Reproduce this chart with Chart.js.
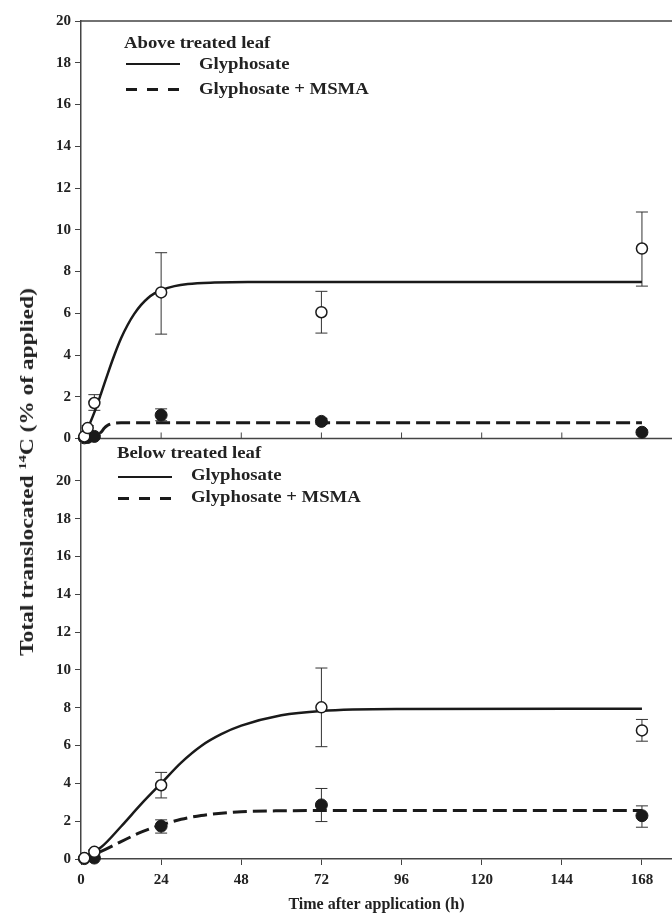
<!DOCTYPE html>
<html>
<head>
<meta charset="utf-8">
<script src="https://cdn.jsdelivr.net/npm/chart.js@4.4.1/dist/chart.umd.min.js"></script>
<style>
  body { margin: 0; background: #fff; width: 672px; height: 923px; overflow: hidden; position: relative;
         font-family: "Liberation Serif", serif; font-weight: bold; color: #222; }
  #topCanvas { position: absolute; left: 0; top: 0; }
  #botCanvas { position: absolute; left: 0; top: 430px; }
  .lbl { position: absolute; font-size: 16px; line-height: 16px; white-space: nowrap;
         transform: scaleX(1.17); transform-origin: left center; }
  .solid { position: absolute; height: 0; border-top: 2.5px solid #1a1a1a; }
  .dash { position: absolute; height: 3px;
          background: repeating-linear-gradient(90deg, #1a1a1a 0 11px, transparent 11px 21px); }
  #ytitle { position: absolute; left: 27px; top: 472px; transform: translate(-50%, -50%) rotate(-90deg) scaleX(1.3);
            font-size: 18px; white-space: nowrap; }
  #ytitle sup { font-size: 11px; }
</style>
</head>
<body>
<canvas id="topCanvas" width="672" height="460"></canvas>
<canvas id="botCanvas" width="672" height="493"></canvas>

<div class="lbl" style="left:124px;top:35px">Above treated leaf</div>
<div class="solid" style="left:126px;top:63px;width:54px"></div>
<div class="lbl" style="left:199px;top:56px">Glyphosate</div>
<div class="dash" style="left:126px;top:88px;width:54px"></div>
<div class="lbl" style="left:199px;top:81px">Glyphosate + MSMA</div>

<div class="lbl" style="left:117px;top:445px">Below treated leaf</div>
<div class="solid" style="left:118px;top:476px;width:54px"></div>
<div class="lbl" style="left:191px;top:467px">Glyphosate</div>
<div class="dash" style="left:118px;top:497px;width:54px"></div>
<div class="lbl" style="left:191px;top:489px">Glyphosate + MSMA</div>

<div id="ytitle">Total translocated <sup>14</sup>C (% of applied)</div>

<script>
// tick values
var xTicks = [0, 24, 48, 72, 96, 120, 144, 168];
var yTicksTop = [0, 2, 4, 6, 8, 10, 12, 14, 16, 18, 20];
var yTicksBot = [0, 2, 4, 6, 8, 10, 12, 14, 16, 18, 20];

// above treated leaf - measured points (h, % of applied)
var topTimes = [1, 2, 4, 24, 72, 168];
var topGly = [0.1, 0.5, 1.7, 7.0, 6.05, 9.1];
var topGlyLow = [0.05, 0.38, 1.35, 5.0, 5.05, 7.3];
var topGlyHigh = [0.15, 0.62, 2.1, 8.9, 7.05, 10.85];
var topMsma = [0.03, 0.05, 0.1, 1.12, 0.82, 0.3];
var topMsmaLow = [0.0, 0.0, 0.05, 0.85, 0.68, 0.2];
var topMsmaHigh = [0.06, 0.1, 0.15, 1.42, 0.96, 0.4];

// above treated leaf - fitted curves
var fitTopGlyT = [0, 2, 4, 6, 8, 10, 12, 14, 16, 18, 20, 22, 24, 28, 32, 40, 50, 168];
var fitTopGlyY = [0.05, 0.5, 1.25, 2.15, 3.1, 4.0, 4.8, 5.45, 5.98, 6.4, 6.72, 6.95, 7.1, 7.3, 7.4, 7.47, 7.5, 7.5];
var fitTopMsmaT = [0, 4, 6, 7, 8, 9, 10, 12, 168];
var fitTopMsmaY = [0.02, 0.08, 0.3, 0.5, 0.63, 0.7, 0.73, 0.75, 0.75];

// below treated leaf - measured points
var botTimes = [1, 4, 24, 72, 168];
var botGly = [0.05, 0.38, 3.9, 8.02, 6.8];
var botGlyLow = [0.0, 0.28, 3.23, 5.94, 6.23];
var botGlyHigh = [0.1, 0.48, 4.58, 10.1, 7.38];
var botMsma = [0.02, 0.05, 1.74, 2.86, 2.29];
var botMsmaLow = [0.0, 0.0, 1.37, 1.98, 1.68];
var botMsmaHigh = [0.05, 0.1, 2.07, 3.73, 2.81];

// below treated leaf - fitted curves
var fitBotGlyT = [0, 6, 12, 18, 24, 30, 36, 42, 48, 60, 72, 96, 168];
var fitBotGlyY = [0.03, 0.62, 1.72, 2.9, 4.0, 5.1, 5.98, 6.6, 7.05, 7.6, 7.83, 7.93, 7.95];
var fitBotMsmaT = [0, 6, 12, 18, 24, 30, 36, 42, 48, 60, 72, 168];
var fitBotMsmaY = [0.03, 0.4, 0.92, 1.42, 1.8, 2.1, 2.3, 2.42, 2.5, 2.55, 2.56, 2.56];

function pts(t, y) {
    return t.map(function (v, i) { return { x: v, y: y[i] }; });
}

Chart.defaults.font.family = '"Liberation Serif", serif';
Chart.defaults.font.weight = 'bold';
Chart.defaults.font.size = 15;
Chart.defaults.color = '#222';

var INK = '#1a1a1a';
var AXIS = '#444';

// error bars + frame lines, all placed through the chart scales
var panelExtras = {
    id: 'panelExtras',
    beforeDatasetsDraw: function (chart, args, opts) {
        var ctx = chart.ctx, xs = chart.scales.x, ys = chart.scales.y, a = chart.chartArea;
        ctx.save();
        ctx.strokeStyle = '#333';
        ctx.lineWidth = 1;
        chart.data.datasets.forEach(function (ds) {
            if (!ds.errLow) return;
            ds.data.forEach(function (p, i) {
                var px = xs.getPixelForValue(p.x);
                var y1 = ys.getPixelForValue(ds.errLow[i]);
                var y2 = ys.getPixelForValue(ds.errHigh[i]);
                ctx.beginPath();
                ctx.moveTo(px, y1); ctx.lineTo(px, y2);
                ctx.moveTo(px - 6, y1); ctx.lineTo(px + 6, y1);
                ctx.moveTo(px - 6, y2); ctx.lineTo(px + 6, y2);
                ctx.stroke();
            });
        });
        if (opts.frame) {
            ctx.strokeStyle = AXIS;
            ctx.lineWidth = 1.5;
            ctx.beginPath();
            ctx.moveTo(a.left, a.top); ctx.lineTo(a.right, a.top);
            ctx.moveTo(a.left, a.bottom); ctx.lineTo(a.right, a.bottom);
            ctx.stroke();
            ctx.lineWidth = 1;
            ctx.beginPath();
            xTicks.forEach(function (v) {
                var px = xs.getPixelForValue(v);
                ctx.moveTo(px, a.bottom); ctx.lineTo(px, a.bottom - 6);
            });
            ctx.stroke();
        }
        ctx.restore();
    }
};

function datasets(times, gly, glyLo, glyHi, msma, msLo, msHi, fGT, fGY, fMT, fMY) {
    return [
        { data: pts(times, gly), errLow: glyLo, errHigh: glyHi, order: 0, clip: false,
          pointRadius: 5.5, pointBackgroundColor: '#fff', pointBorderColor: INK, pointBorderWidth: 1.5 },
        { data: pts(times, msma), errLow: msLo, errHigh: msHi, order: 0, clip: false,
          pointRadius: 6, pointBackgroundColor: INK, pointBorderColor: INK, pointBorderWidth: 1 },
        { data: pts(fGT, fGY), showLine: true, pointRadius: 0, order: 1,
          borderColor: INK, borderWidth: 2.5, cubicInterpolationMode: 'monotone' },
        { data: pts(fMT, fMY), showLine: true, pointRadius: 0, order: 1,
          borderColor: INK, borderWidth: 3, borderDash: [14, 6], cubicInterpolationMode: 'monotone' }
    ];
}

function yAxis(max, tickVals) {
    return {
        type: 'linear', min: 0, max: max,
        afterBuildTicks: function (s) { s.ticks = tickVals.map(function (v) { return { value: v }; }); },
        afterFit: function (s) { s.width = 81; },
        grid: { drawOnChartArea: false, tickLength: 6, color: AXIS },
        border: { color: AXIS, width: 1.5 },
        ticks: { padding: 4, font: { size: 15 } }
    };
}

var topChart = new Chart(document.getElementById('topCanvas'), {
    type: 'scatter',
    data: {
        datasets: datasets(topTimes, topGly, topGlyLow, topGlyHigh, topMsma, topMsmaLow, topMsmaHigh,
                           fitTopGlyT, fitTopGlyY, fitTopMsmaT, fitTopMsmaY)
    },
    options: {
        responsive: false, animation: false,
        layout: { autoPadding: false, padding: { top: 21, bottom: 21.5, left: 0, right: 0 } },
        plugins: { legend: { display: false }, tooltip: { enabled: false }, panelExtras: { frame: true } },
        scales: {
            x: { type: 'linear', min: 0, max: 177, display: false },
            y: yAxis(20, yTicksTop)
        }
    },
    plugins: [panelExtras]
});

var botChart = new Chart(document.getElementById('botCanvas'), {
    type: 'scatter',
    data: {
        datasets: datasets(botTimes, botGly, botGlyLow, botGlyHigh, botMsma, botMsmaLow, botMsmaHigh,
                           fitBotGlyT, fitBotGlyY, fitBotMsmaT, fitBotMsmaY)
    },
    options: {
        responsive: false, animation: false,
        layout: { autoPadding: false, padding: { top: 8.5, bottom: 5, left: 0, right: 0 } },
        plugins: { legend: { display: false }, tooltip: { enabled: false }, panelExtras: { frame: false } },
        scales: {
            x: {
                type: 'linear', min: 0, max: 177,
                afterBuildTicks: function (s) { s.ticks = xTicks.map(function (v) { return { value: v }; }); },
                afterFit: function (s) { s.height = 59; },
                grid: { drawOnChartArea: false, tickLength: 6, color: AXIS },
                border: { color: AXIS, width: 1.5 },
                ticks: { padding: 6, maxRotation: 0, font: { size: 15 } },
                title: { display: true, text: 'Time after application (h)', font: { size: 16 },
                         padding: { top: 6, bottom: 4 } }
            },
            y: yAxis(22, yTicksBot)
        }
    },
    plugins: [panelExtras]
});
</script>
</body>
</html>
